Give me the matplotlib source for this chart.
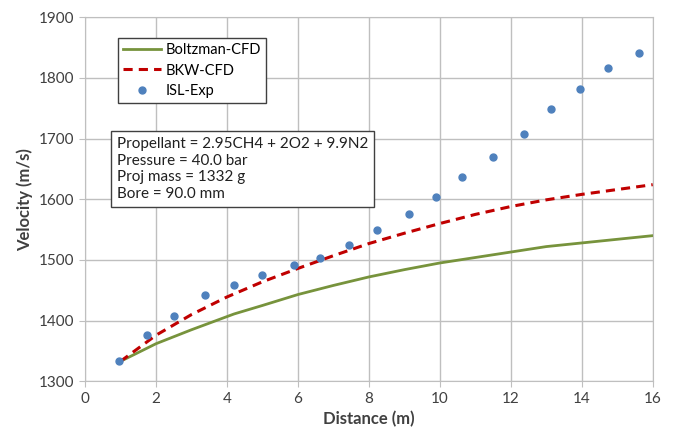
import matplotlib
matplotlib.use('Agg')
import matplotlib.pyplot as plt

plt.rcParams['font.family'] = ['Lato', 'DejaVu Sans']

# Boltzman-CFD curve
boltz_x = [1, 2, 3, 4.2, 5, 6, 7, 8, 9, 10, 11, 12, 13, 14, 15, 16]
boltz_v = [1333, 1362, 1385, 1411, 1425, 1443, 1458, 1472, 1484, 1495, 1504, 1513, 1522, 1528, 1534, 1540]

# BKW-CFD curve
bkw_x = [1, 2, 3, 4, 5, 6, 7, 8, 9, 10, 11, 12, 13, 14, 15, 16]
bkw_v = [1333, 1376, 1410, 1439, 1464, 1486, 1507, 1527, 1544, 1560, 1575, 1588, 1599, 1608, 1616, 1624]

# ISL experiment
exp_x = [0.95, 1.76, 2.52, 3.39, 4.19, 5.0, 5.88, 6.62, 7.45, 8.24, 9.13, 9.88,
         10.63, 11.49, 12.38, 13.13, 13.94, 14.75, 15.62]
exp_v = [1333, 1376, 1408, 1442, 1458, 1475, 1492, 1504, 1524, 1549, 1575, 1604,
         1637, 1670, 1707, 1749, 1782, 1816, 1841]

info = "Propellant = 2.95CH4 + 2O2 + 9.9N2\nPressure = 40.0 bar\nProj mass = 1332 g\nBore = 90.0 mm"

fig = plt.figure(figsize=(6.75, 4.28), dpi=100)
ax = fig.add_axes([0.126, 0.109, 0.841, 0.851])

ax.plot(boltz_x, boltz_v, color='#77933C', lw=2, label='Boltzman-CFD')
ax.plot(bkw_x, bkw_v, color='#C00000', lw=2.2, ls=(0, (3, 2)), label='BKW-CFD')
ax.plot(exp_x, exp_v, 'o', color='#4F81BD', ms=5, label='ISL-Exp')

ax.set_xlim(0, 16)
ax.set_ylim(1300, 1900)
ax.set_xticks(range(0, 17, 2))
ax.set_yticks(range(1300, 1901, 100))
ax.grid(True, color='#bfbfbf', lw=1)
ax.set_axisbelow(True)
for s in ax.spines.values():
    s.set_color('#bfbfbf')
ax.tick_params(colors='#bfbfbf', labelcolor='#404040', labelsize=11, length=4)
ax.set_xlabel('Distance (m)', fontsize=12, fontweight='bold', color='#404040')
ax.set_ylabel('Velocity (m/s)', fontsize=12, fontweight='bold', color='#404040')

leg = ax.legend(loc='upper left', bbox_to_anchor=(0.058, 0.943), borderaxespad=0,
                fontsize=10.5, fancybox=False, framealpha=1, edgecolor='#404040',
                handlelength=2.6, handletextpad=0.3, borderpad=0.35, labelspacing=0.45)
leg.get_frame().set_linewidth(1)

ax.text(0.056, 0.671, info, transform=ax.transAxes, fontsize=11, va='top', ha='left',
        color='#202020', linespacing=1.25,
        bbox=dict(boxstyle='square,pad=0.4', fc='white', ec='#404040', lw=1))

fig.savefig('out.png', dpi=100)
